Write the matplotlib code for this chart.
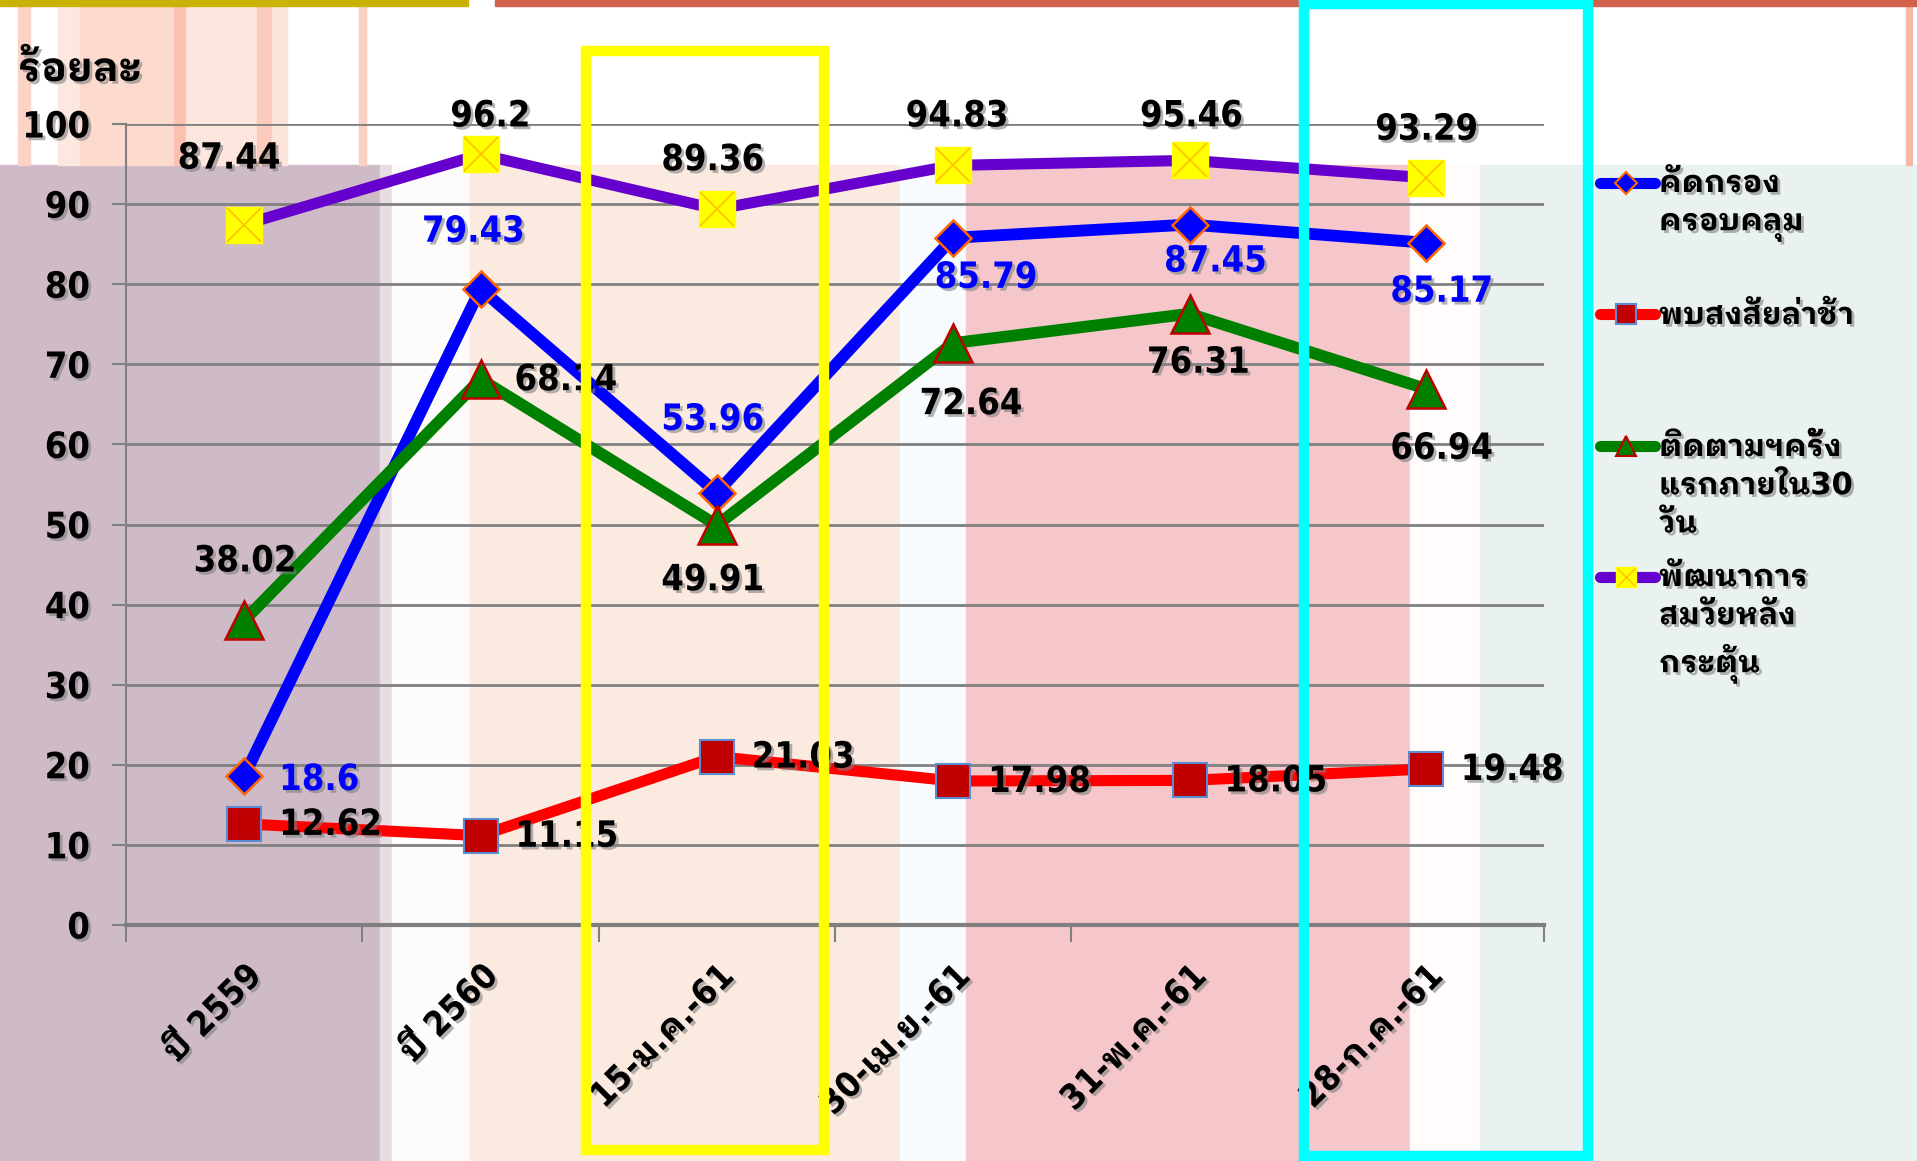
import matplotlib
matplotlib.use("Agg")
import matplotlib.pyplot as plt
import matplotlib.patheffects as pe
from matplotlib.lines import Line2D
from matplotlib.patches import Rectangle

# data
categories = ["ปี 2559", "ปี 2560", "15-ม.ค.-61", "30-เม.ย.-61", "31-พ.ค.-61", "28-ก.ค.-61"]
screening = [18.6, 79.43, 53.96, 85.79, 87.45, 85.17]
suspected_delay = [12.62, 11.15, 21.03, 17.98, 18.05, 19.48]
follow_up = [38.02, 68.14, 49.91, 72.64, 76.31, 66.94]
development = [87.44, 96.2, 89.36, 94.83, 95.46, 93.29]
y_ticks = [0, 10, 20, 30, 40, 50, 60, 70, 80, 90, 100]
y_title = "ร้อยละ"
legend_labels = ["คัดกรอง\nครอบคลุม", "พบสงสัยล่าช้า",
                 "ติดตามฯครั้ง\nแรกภายใน30\nวัน", "พัฒนาการ\nสมวัยหลัง\nกระตุ้น"]

FONT = ["DejaVu Sans", "IBM Plex Sans Thai Looped"]
plt.rcParams["font.family"] = FONT
plt.rcParams["font.weight"] = "bold"

W, H = 1917, 1161
fig = plt.figure(figsize=(W / 100, H / 100), dpi=100)
fig.patch.set_facecolor("white")

SHADOW = [pe.SimplePatchShadow(offset=(2, -2), shadow_rgbFace="#808080", alpha=0.6), pe.Normal()]


def px_rect(x0, x1, y0, y1, color, z=-5, **kw):
    # pixel box measured from the top-left corner of the slide
    r = Rectangle((x0 / W, 1 - y1 / H), (x1 - x0) / W, (y1 - y0) / H,
                  transform=fig.transFigure, color=color, zorder=z, **kw)
    fig.add_artist(r)
    return r


# slide background bands
for x0, x1, c in [(0, 380, "#cfbbc7"), (380, 392, "#e8dde3"), (392, 470, "#fdfcfb"),
                  (470, 900, "#fbeadf"), (900, 966, "#f8fbfe"), (966, 1410, "#f5c7ca"),
                  (1410, 1480, "#fffcfb"), (1480, W, "#e9f2f0")]:
    px_rect(x0, x1, 165, H, c)
for x0, x1, c in [(18, 30, "#fbd3c6"), (58, 80, "#fde8e0"), (80, 174, "#fcdacd"),
                  (174, 186, "#fbc1ae"), (186, 257, "#fde6dd"), (257, 272, "#fbcbbb"),
                  (272, 287, "#fde4da"), (359, 366, "#fbcfc1"), (1906, 1912, "#f6b8a6")]:
    px_rect(x0, x1, 6, 165, c)
px_rect(0, 468, 0, 6, "#c9b200")
px_rect(495, W, 0, 6, "#d3624c")

ax = fig.add_axes([126 / W, 1 - 925 / H, (1544 - 126) / W, (925 - 124) / H])
ax.set_facecolor("none")
x = list(range(len(categories)))

ax.plot(x, suspected_delay, color="#ff0000", lw=8, marker="s", ms=24,
        mfc="#c00000", mec="#5b8bd0", mew=1.5, zorder=3)
ax.plot(x, screening, color="#0000ff", lw=8.5, marker="D", ms=18,
        mfc="#0000ff", mec="#ff6600", mew=1.8, zorder=4)
ax.plot(x, follow_up, color="#008000", lw=8.5, marker="^", ms=27,
        mfc="#008000", mec="#c00000", mew=1.8, zorder=5)
ax.plot(x, development, color="#6600cc", lw=8, marker="s", ms=26,
        mfc="#ffff00", mec="#ffff00", zorder=6)
ax.plot(x, development, ls="none", marker="x", ms=25, mec="#ffc000", mew=1.2, zorder=7)

ax.set_xlim(-0.5, len(categories) - 0.5)
ax.set_ylim(0, 100)
ax.set_yticks(y_ticks)
ax.yaxis.grid(True, color="#808080", lw=2)
ax.set_axisbelow(True)
for s in ["top", "right"]:
    ax.spines[s].set_visible(False)
ax.spines["left"].set_color("#808080")
ax.spines["left"].set_linewidth(1.5)
ax.spines["bottom"].set_color("#7f7f7f")
ax.spines["bottom"].set_linewidth(3)
ax.tick_params(axis="y", length=10, width=1.5, color="#808080", pad=16,
               labelsize=26)
ax.set_xticks(x)
ax.set_xticks([i - 0.5 for i in range(len(categories) + 1)], minor=True)
ax.tick_params(axis="x", which="minor", length=12, width=1.5, color="#808080")
ax.tick_params(axis="x", which="major", length=0, pad=24)
ax.set_xticklabels(categories, rotation=45, ha="right", va="top",
                   rotation_mode="anchor", fontsize=25)
for lab in ax.get_yticklabels() + ax.get_xticklabels():
    lab.set_fontweight("bold")
    lab.set_fontstretch("condensed")
    lab.set_path_effects(SHADOW)


def label_series(vals, offsets, aligns, color):
    for i, v in enumerate(vals):
        dx, dy = offsets[i]
        ax.annotate(f"{v:g}", (i, v), xytext=(dx, dy), textcoords="offset pixels",
                    ha=aligns[i], va="center", fontsize=26, fontweight="bold",
                    fontstretch="condensed", color=color, path_effects=SHADOW, zorder=8)


label_series(development, [(-15, 66), (10, 38), (-4, 49), (4, 49), (2, 44), (1, 48)],
             ["center"] * 6, "black")
label_series(screening, [(35, -4), (-7, 57), (-4, 73), (33, -40), (26, -37), (16, -49)],
             ["left"] + ["center"] * 5, "#0000ff")
label_series(follow_up, [(1, 59), (34, -1), (-4, -55), (18, -61), (9, -49), (16, -60)],
             ["center", "left", "center", "center", "center", "center"], "black")
label_series(suspected_delay, [(35, -1)] * 6, ["left"] * 6, "black")

fig.text(18 / W, 1 - 70 / H, y_title, fontsize=29, fontweight="bold",
         va="center", ha="left", path_effects=SHADOW)

# legend drawn by hand in the right margin
legend_styles = [
    dict(color="#0000ff", marker="D", ms=11, mfc="#0000ff", mec="#ff6600", mew=1.5),
    dict(color="#ff0000", marker="s", ms=14, mfc="#c00000", mec="#5b8bd0", mew=1.5),
    dict(color="#008000", marker="^", ms=15, mfc="#008000", mec="#c00000", mew=1.5),
    dict(color="#6600cc", marker="s", ms=15, mfc="#ffff00", mec="#ffff00", mew=1),
]
legend_rows = [183, 314, 446, 577]
for lbl, st, yc in zip(legend_labels, legend_styles, legend_rows):
    yf = 1 - yc / H
    fig.add_artist(Line2D([1600 / W, 1655 / W], [yf, yf], transform=fig.transFigure,
                          lw=8, color=st["color"], solid_capstyle="round", zorder=9))
    fig.add_artist(Line2D([1626 / W], [yf], transform=fig.transFigure, ls="none",
                          marker=st["marker"], ms=st["ms"], mfc=st["mfc"], mec=st["mec"],
                          mew=st["mew"], zorder=10))
    fig.text(1659 / W, yf + 14 / H, lbl, fontsize=22, fontweight="bold", va="top",
             ha="left", linespacing=1.4, path_effects=SHADOW)
fig.add_artist(Line2D([1626 / W], [1 - 577 / H], transform=fig.transFigure, ls="none",
                      marker="x", ms=13, mec="#ffc000", mew=1, zorder=11))

# highlight boxes on top of the slide
px_rect(586, 824, 51, 1150, "none", z=20, fill=False, ec="#ffff00", lw=7.5)
px_rect(1304, 1588, 4, 1156, "none", z=20, fill=False, ec="#00ffff", lw=7.5)

fig.savefig("out.png", dpi=100)
